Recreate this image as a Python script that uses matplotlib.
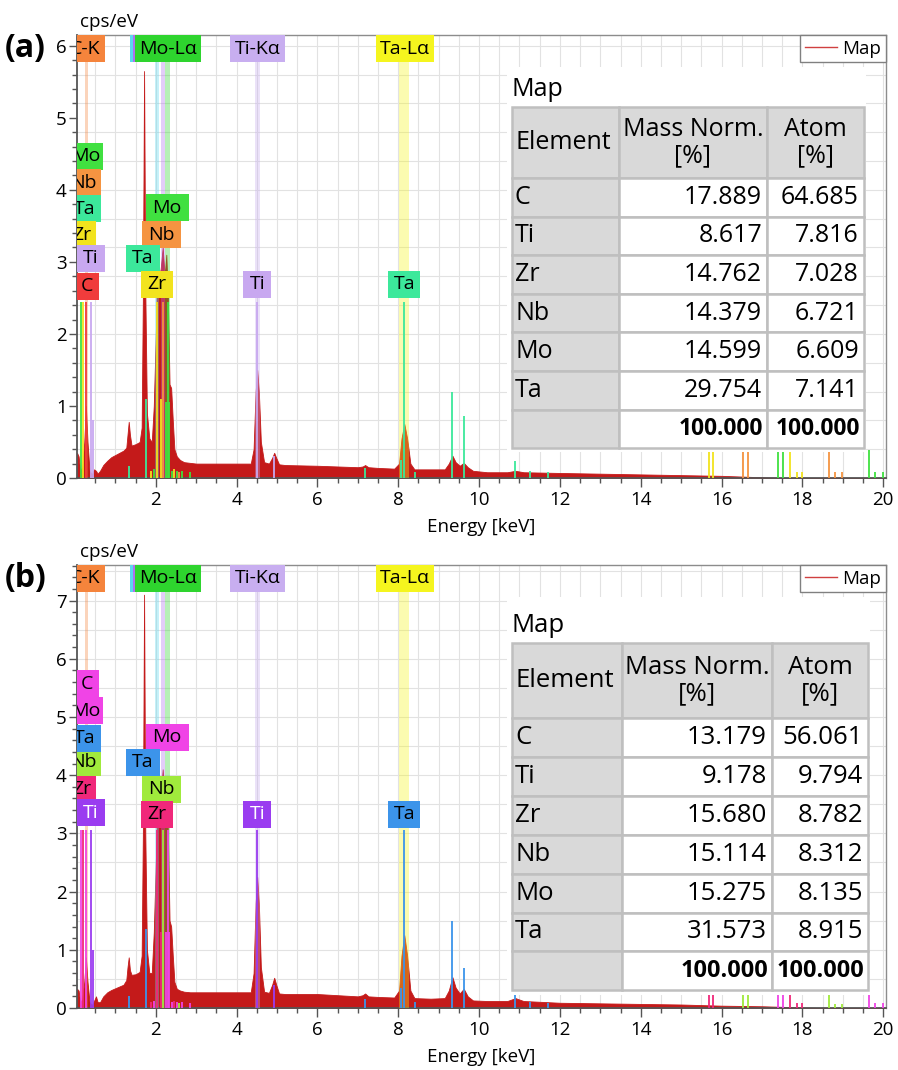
import numpy as np
import matplotlib.pyplot as plt
from matplotlib.patches import Rectangle
from matplotlib.lines import Line2D
from matplotlib.ticker import MultipleLocator

plt.rcParams['font.family'] = ['Open Sans', 'DejaVu Sans']

W, H = 898, 1070

# %%
# Spectrum (energy in keV, cps/eV)
spec_e = [0.05, 0.09, 0.13, 0.18, 0.23, 0.27, 0.31, 0.36, 0.42, 0.47, 0.52, 0.56, 0.62,
          0.70, 0.80, 0.90, 1.00, 1.10, 1.20, 1.27, 1.30, 1.33, 1.36, 1.40, 1.50, 1.60,
          1.65, 1.68, 1.71, 1.74, 1.78, 1.84, 1.90, 1.95, 2.00, 2.04, 2.08, 2.12, 2.17,
          2.22, 2.26, 2.30, 2.34, 2.38, 2.42, 2.46, 2.52, 2.60, 2.70, 2.85, 3.00, 3.50,
          4.00, 4.35, 4.42, 4.47, 4.51, 4.55, 4.60, 4.68, 4.80, 4.88, 4.93, 4.98, 5.05,
          5.20, 6.00, 7.00, 7.12, 7.18, 7.26, 7.50, 7.90, 8.02, 8.08, 8.15, 8.22, 8.30,
          8.40, 8.80, 9.15, 9.25, 9.34, 9.42, 9.52, 9.62, 9.72, 9.85, 10.2, 10.7, 10.9,
          11.1, 12.0, 13.0, 14.0, 15.0, 16.0, 17.0, 17.5, 18.4, 20.1]
spec_a = [0.35, 0.30, 0.10, 0.15, 0.50, 1.00, 0.50, 0.10, 0.05, 0.12, 0.10, 0.06, 0.10,
          0.18, 0.24, 0.29, 0.32, 0.35, 0.38, 0.42, 0.60, 0.78, 0.60, 0.45, 0.47, 0.50,
          0.70, 2.50, 5.65, 2.60, 0.90, 0.55, 0.50, 1.00, 2.00, 3.00, 2.80, 2.90, 3.20,
          2.80, 3.10, 2.50, 1.30, 1.25, 0.80, 0.40, 0.30, 0.25, 0.22, 0.21, 0.20, 0.20,
          0.20, 0.20, 0.40, 1.20, 1.50, 1.20, 0.50, 0.22, 0.20, 0.28, 0.35, 0.28, 0.19,
          0.18, 0.17, 0.15, 0.16, 0.18, 0.15, 0.14, 0.13, 0.20, 0.55, 0.75, 0.55, 0.20,
          0.12, 0.12, 0.12, 0.20, 0.31, 0.22, 0.17, 0.21, 0.15, 0.10, 0.08, 0.08, 0.10,
          0.08, 0.07, 0.06, 0.05, 0.04, 0.03, 0.01, 0.00, 0.00, 0.00]
spec_b = [0.33, 0.30, 0.10, 0.15, 0.45, 0.87, 0.45, 0.10, 0.05, 0.12, 0.20, 0.10, 0.10,
          0.20, 0.27, 0.31, 0.34, 0.37, 0.40, 0.48, 0.70, 0.87, 0.65, 0.57, 0.58, 0.62,
          0.90, 3.00, 7.10, 3.00, 1.00, 0.60, 0.60, 1.30, 2.50, 3.60, 3.40, 3.60, 4.10,
          3.50, 3.90, 3.00, 1.50, 1.40, 0.90, 0.45, 0.33, 0.30, 0.28, 0.27, 0.27, 0.27,
          0.27, 0.27, 0.60, 1.80, 2.25, 1.80, 0.70, 0.28, 0.26, 0.40, 0.52, 0.40, 0.25,
          0.24, 0.24, 0.20, 0.22, 0.25, 0.20, 0.19, 0.18, 0.30, 0.90, 1.25, 0.90, 0.30,
          0.17, 0.16, 0.17, 0.30, 0.53, 0.35, 0.25, 0.33, 0.20, 0.13, 0.12, 0.12, 0.17,
          0.12, 0.09, 0.08, 0.07, 0.06, 0.04, 0.03, 0.02, 0.00, 0.00]

# element marker lines: energy, element, height (a), height (b)
mk_e = [0.15, 0.21, 0.27, 0.40, 0.45, 1.33, 1.76, 2.04, 2.12, 2.17, 2.26, 2.29, 2.32,
        1.88, 1.95, 2.40, 2.46, 2.52, 2.58, 2.64, 2.85, 4.51, 4.93, 7.18, 8.08, 8.15,
        8.42, 9.34, 9.62, 10.9, 11.25, 11.7, 15.69, 15.79, 16.53, 16.66, 17.40, 17.52,
        17.70, 17.87, 18.00, 18.66, 18.80, 18.98, 19.65, 19.80, 20.00]
mk_el = ['Mo', 'Zr', 'C', 'Ti', 'Ti', 'Ta', 'Ta', 'Zr', 'Zr', 'Nb', 'Mo', 'Mo', 'Mo',
         'Zr', 'Mo', 'Mo', 'Zr', 'Mo', 'Nb', 'Mo', 'Mo', 'Ti', 'Ti', 'Ta', 'Ta', 'Ta',
         'Ta', 'Ta', 'Ta', 'Ta', 'Ta', 'Ta', 'Zr', 'Zr', 'Nb', 'Nb', 'Mo', 'Mo',
         'Zr', 'Zr', 'Zr', 'Nb', 'Nb', 'Nb', 'Mo', 'Mo', 'Mo']
mk_ha = [2.45, 2.45, 2.45, 2.45, 0.80, 0.16, 1.10, 2.45, 1.10, 2.45, 1.05, 2.45, 1.05,
         0.10, 0.12, 0.10, 0.12, 0.10, 0.08, 0.10, 0.08, 2.45, 0.30, 0.14, 0.25, 2.45,
         0.08, 1.19, 0.86, 0.24, 0.10, 0.08, 0.38, 0.38, 0.37, 0.37, 0.37, 0.37,
         0.37, 0.08, 0.08, 0.37, 0.08, 0.08, 0.39, 0.08, 0.08]
mk_hb = [3.05, 3.05, 3.05, 3.05, 1.00, 0.20, 1.35, 3.05, 1.30, 3.05, 1.30, 3.05, 1.30,
         0.10, 0.12, 0.10, 0.12, 0.10, 0.08, 0.10, 0.08, 3.05, 0.40, 0.15, 0.34, 3.05,
         0.10, 1.50, 0.68, 0.23, 0.10, 0.08, 0.24, 0.24, 0.24, 0.24, 0.24, 0.24,
         0.24, 0.08, 0.08, 0.26, 0.07, 0.07, 0.26, 0.08, 0.08]

# element tags: text, energy, y (a), y (b), box width in px
tag_el = ['Mo', 'Nb', 'Ta', 'Zr', 'Ti', 'C', 'Mo', 'Nb', 'Ta', 'Zr', 'Ti', 'Ta']
tag_e = [0.26, 0.22, 0.24, 0.17, 0.40, 0.30, 2.28, 2.15, 1.68, 2.03, 4.51, 8.15]
tag_w = [36, 34, 32, 28, 28, 24, 43, 39, 34, 32, 28, 32]
tag_ya = [4.47, 4.10, 3.74, 3.38, 3.05, 2.66, 3.75, 3.38, 3.05, 2.69, 2.69, 2.69]
tag_yb = [5.11, 4.22, 4.63, 3.76, 3.35, 5.57, 4.65, 3.76, 4.22, 3.33, 3.33, 3.33]

# line tags across the top
top_txt = ['C-K', '', '', 'Mo-Lα', 'Ti-Kα', 'Ta-Lα']
top_e = [0.26, 2.18, 2.25, 2.30, 4.52, 8.17]
top_w = [40, 66, 66, 66, 55, 58]
top_col = ['#f5843c', '#5cd8f0', '#b070f0', '#2ed42e', '#c8aef0', '#f5f51e']
band_e = [0.277, 2.04, 2.17, 2.29, 4.51, 8.15]
band_w = [0.08, 0.10, 0.10, 0.10, 0.13, 0.25]

col_a = {'C': '#f03c3c', 'Ti': '#c8a8f0', 'Zr': '#f2e31e', 'Ta': '#3ce89b',
         'Nb': '#f59441', 'Mo': '#40e040'}
col_b = {'C': '#f044e6', 'Ti': '#9a3cf0', 'Zr': '#f0287a', 'Ta': '#3c94ea',
         'Nb': '#a0ea3c', 'Mo': '#f044e6'}

# quantification tables
elements = ['C', 'Ti', 'Zr', 'Nb', 'Mo', 'Ta']
mass_a = [17.889, 8.617, 14.762, 14.379, 14.599, 29.754]
atom_a = [64.685, 7.816, 7.028, 6.721, 6.609, 7.141]
mass_b = [13.179, 9.178, 15.680, 15.114, 15.275, 31.573]
atom_b = [56.061, 9.794, 8.782, 8.312, 8.135, 8.915]
total = [100.0, 100.0]

# %%
fig = plt.figure(figsize=(W / 100, H / 100), dpi=100)


def px_rect(left, top, right, bottom):
    return [left / W, 1 - bottom / H, (right - left) / W, (bottom - top) / H]


def tag(ax, x, y, text, color, wpx, hpx=27, tcolor='black', z=6):
    x0, x1 = ax.get_xlim()
    y0, y1 = ax.get_ylim()
    kx = (x1 - x0) / (ax.bbox.width)
    ky = (y1 - y0) / (ax.bbox.height)
    ax.add_patch(Rectangle((x - wpx * kx / 2, y - hpx * ky / 2), wpx * kx, hpx * ky,
                           fc=color, ec='none', zorder=z))
    ax.text(x, y, text, ha='center', va='center', fontsize=14, color=tcolor,
            zorder=z + 0.1, clip_on=True)


def panel(rect, spec, ymax, mk_h, cols, tag_y, ygrid, letter):
    ax = fig.add_axes(px_rect(*rect))
    ax.set_xlim(0.05, 20.07)
    ax.set_ylim(0, ymax)
    ax.set_axisbelow(True)
    ax.xaxis.set_major_locator(MultipleLocator(2))
    ax.xaxis.set_minor_locator(MultipleLocator(0.5))
    ax.yaxis.set_major_locator(MultipleLocator(1))
    ax.yaxis.set_minor_locator(MultipleLocator(0.2))
    ax.set_xticks(np.arange(2, 21, 2))
    ax.grid(True, which='both', axis='x', color='#e2e2e2', lw=0.8)
    for gy in np.arange(ygrid, ymax, ygrid):
        ax.axhline(gy, color='#e2e2e2', lw=0.8, zorder=0)
    ax.tick_params(which='major', length=5.5, width=1, color='#555555', labelsize=13.5,
                   pad=2)
    ax.tick_params(which='minor', length=3.5, width=1, color='#555555')
    ax.tick_params(axis='x', which='major', length=6.5, pad=3)
    for s in ['left', 'bottom']:
        ax.spines[s].set_color('#555555')
        ax.spines[s].set_linewidth(1.3)
    for s in ['top', 'right']:
        ax.spines[s].set_color('#8c8c8c')
        ax.spines[s].set_linewidth(1.0)

    ax.fill_between(spec_e, 0, spec, color='#c41a1a', lw=0.6, zorder=2)

    for e, w, c in zip(band_e, band_w, top_col):
        ax.axvspan(e - w / 2, e + w / 2, color=c, alpha=0.35, lw=0, zorder=3)

    ax.vlines(mk_e, 0, mk_h, colors=[cols[el] for el in mk_el], lw=1.3, zorder=4)

    for t, e, y, w in zip(tag_el, tag_e, tag_y, tag_w):
        tc = 'white' if (cols is col_b and t == 'Ti') else 'black'
        tag(ax, e, y, t, cols[t], w, tcolor=tc)

    ytop = ymax - 13.5 * ymax / ax.bbox.height
    for t, e, w, c in zip(top_txt, top_e, top_w, top_col):
        tag(ax, e, ytop, t, c, w, z=7)

    ax.set_xlabel('Energy [keV]', fontsize=13.5, labelpad=6)
    ax.text(0.004, 1.008, 'cps/eV', transform=ax.transAxes, fontsize=13.5,
            ha='left', va='bottom')
    fig.text(5 / W, 1 - (rect[1] + 13) / H, letter, fontsize=23, fontweight='bold',
             ha='left', va='center')

    leg = ax.legend(handles=[Line2D([], [], color='#d04040', lw=1)], labels=['Map'],
                    loc='upper right', borderaxespad=0, fancybox=False,
                    edgecolor='#808080', framealpha=1, fontsize=13.5, handlelength=1.7,
                    handletextpad=0.3, borderpad=0.25)
    leg.get_frame().set_linewidth(1.0)
    leg.set_zorder(10)
    return ax


ax_a = panel((77, 35, 886, 478), spec_a, 6.15, mk_ha, col_a, tag_ya, 0.4, '(a)')
ax_b = panel((77, 565, 886, 1008), spec_b, 7.61, mk_hb, col_b, tag_yb, 0.5, '(b)')

# %%
# Tables drawn on a pixel overlay
ov = fig.add_axes([0, 0, 1, 1])
ov.set_xlim(0, W)
ov.set_ylim(H, 0)
ov.axis('off')


def table(back, cols, top, hdr_h, row_h, mass, atom, fs):
    ov.add_patch(Rectangle((back[0], back[1]), back[2] - back[0], back[3] - back[1],
                           fc='white', ec='none'))
    ov.text(cols[0], top - 17, 'Map', fontsize=fs, ha='left', va='center')
    gray, line = '#d9d9d9', '#bfbfbf'
    ys = [top, top + hdr_h] + [top + hdr_h + row_h * (i + 1) for i in range(7)]
    for r in range(8):
        for c in range(3):
            fc = gray if (r == 0 or c == 0) else 'white'
            ov.add_patch(Rectangle((cols[c], ys[r]), cols[c + 1] - cols[c],
                                   ys[r + 1] - ys[r], fc=fc, ec=line, lw=1.8))
    yc = (ys[0] + ys[1]) / 2
    ov.text(cols[0] + 3, yc, 'Element', fontsize=fs, ha='left', va='center')
    ov.text((cols[1] + cols[2]) / 2, yc, 'Mass Norm.\n[%]', fontsize=fs, ha='center',
            va='center', linespacing=1.1)
    ov.text((cols[2] + cols[3]) / 2, yc, 'Atom\n[%]', fontsize=fs, ha='center',
            va='center', linespacing=1.1)
    for i, (el, m, a) in enumerate(zip(elements, mass, atom)):
        y = (ys[i + 1] + ys[i + 2]) / 2
        ov.text(cols[0] + 3, y, el, fontsize=fs, ha='left', va='center')
        ov.text(cols[2] - 5, y, f'{m:.3f}', fontsize=fs, ha='right', va='center')
        ov.text(cols[3] - 5, y, f'{a:.3f}', fontsize=fs, ha='right', va='center')
    y = (ys[7] + ys[8]) / 2
    ov.text(cols[2] - 4, y, f'{total[0]:.3f}', fontsize=fs - 1.6, ha='right',
            va='center', fontweight='bold')
    ov.text(cols[3] - 4, y, f'{total[1]:.3f}', fontsize=fs - 1.6, ha='right',
            va='center', fontweight='bold')


table((507, 67, 866, 452), [512, 619, 767, 864], 107, 71, 38.6, mass_a, atom_a, 18)
table((507, 597, 870, 995), [512, 622, 772, 868], 643, 75, 38.9, mass_b, atom_b, 18.5)

fig.savefig('out.png', dpi=100)
